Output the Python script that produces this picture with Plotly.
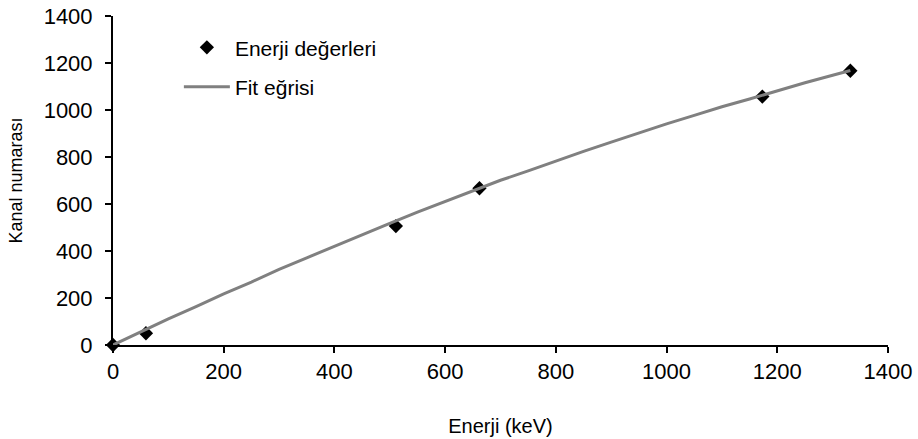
import plotly.graph_objects as go

# Measured points (energy in keV, channel number)
energy_points = [0, 59.5, 511, 662, 1173, 1332]
channel_points = [0, 50, 506, 667, 1057, 1167]

# Fit curve
fit_energy = [0, 50, 100, 150, 200, 250, 300, 350, 400, 450, 500, 550, 600, 650,
              700, 750, 800, 850, 900, 950, 1000, 1050, 1100, 1150, 1200, 1250, 1300, 1332]
fit_channel = [0, 56, 111, 163, 218, 268, 322, 371, 421, 470, 518, 565, 611, 656,
               701, 741, 784, 824, 863, 903, 941, 977, 1014, 1047, 1082, 1116, 1148, 1168]

x_ticks = [0, 200, 400, 600, 800, 1000, 1200, 1400]
y_ticks = [0, 200, 400, 600, 800, 1000, 1200, 1400]

fig = go.Figure()
fig.add_trace(go.Scatter(
    x=energy_points, y=channel_points, mode="markers", name="Enerji değerleri",
    marker=dict(symbol="diamond", size=11, color="black"),
    legendgroup="a", cliponaxis=False,
))
fig.add_trace(go.Scatter(
    x=fit_energy, y=fit_channel, mode="lines", name="Fit eğrisi",
    line=dict(color="#808080", width=3),
    legendgroup="b", cliponaxis=False,
))

FONT = "Arial, Liberation Sans, sans-serif"
axis_common = dict(
    showline=True, linecolor="black", linewidth=2, ticks="outside",
    ticklen=6, tickcolor="black", tickwidth=1.5, showgrid=False, zeroline=False,
    tickfont=dict(family=FONT, size=22, color="black"), automargin=False,
)

fig.update_layout(
    width=918, height=439,
    margin=dict(l=113, r=30, t=16, b=94),
    paper_bgcolor="white", plot_bgcolor="white",
    font=dict(family=FONT, color="black"),
    xaxis=dict(range=[0, 1400], tickvals=x_ticks, ticktext=[str(v) for v in x_ticks],
               title=dict(text="Enerji (keV)", font=dict(size=20), standoff=36),
               **axis_common),
    yaxis=dict(range=[0, 1400], tickvals=y_ticks, ticktext=[str(v) for v in y_ticks],
               title=dict(text="Kanal numarası", font=dict(size=18), standoff=16),
               ticklabelstandoff=8,
               **axis_common),
    legend=dict(x=0.085, y=0.966, xanchor="left", yanchor="top",
                font=dict(size=21), tracegroupgap=9, itemwidth=46,
                bgcolor="rgba(0,0,0,0)"),
    showlegend=True,
)

fig.write_html("out.html")
